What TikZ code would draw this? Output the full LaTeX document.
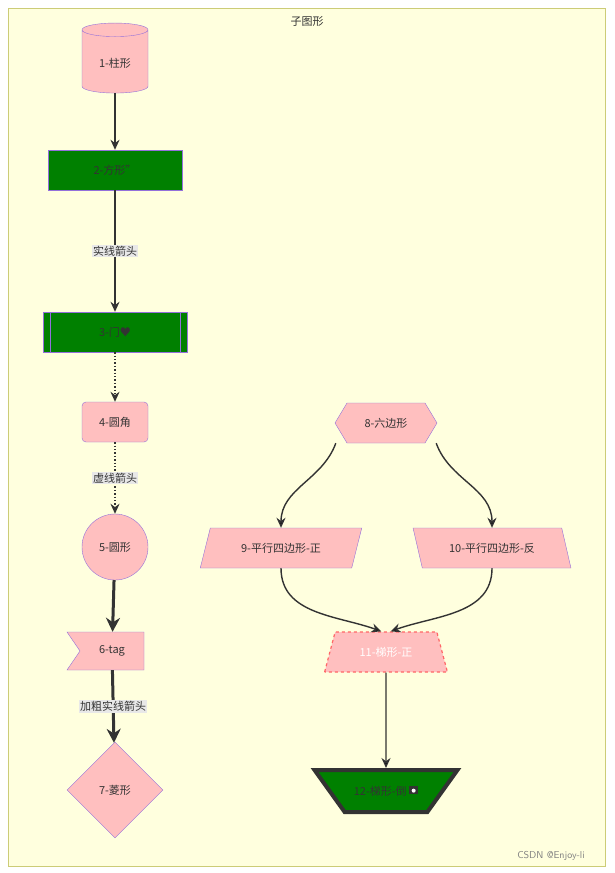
\documentclass[tikz,border=0pt]{standalone}
\usepackage{fontspec}
\setmainfont{Noto Sans CJK SC}
\usetikzlibrary{shapes.geometric,shapes.misc,shapes.multipart,arrows.meta}
\definecolor{clusterbg}{HTML}{FFFFDE}
\definecolor{clusterline}{HTML}{CCCC77}
\definecolor{nodeline}{HTML}{9370DB}
\definecolor{darkgreen}{HTML}{008000}
\definecolor{edgecol}{HTML}{333333}
\definecolor{labelbg}{HTML}{E8E8E8}
\tikzset{
  box/.style={draw=nodeline, fill=pink, text=edgecol, font=\fontsize{11}{13}\selectfont},
  greenbox/.style={box, fill=darkgreen, minimum height=40pt},
  link/.style={draw=edgecol, line width=1.4pt, -{Stealth[length=10pt,width=9pt]}},
  dotlink/.style={link, dotted},
  boldlink/.style={draw=edgecol, line width=3pt, -{Stealth[length=14pt,width=14pt]}},
  elabel/.style={fill=labelbg, inner sep=1pt, text=edgecol, font=\fontsize{11}{13}\selectfont},
}
\begin{document}
\begin{tikzpicture}[x=1pt, y=-1pt]
        % Define Variables
        \useasboundingbox (0,0) rectangle (614,873);

        % Cluster
        \draw[clusterline, fill=clusterbg] (8,8) rectangle (605,866);
        \node[text=edgecol, font=\fontsize{11}{13}\selectfont] (title) at (307,21) {子图形};

        % Left column
        \node[box, cylinder, shape border rotate=90, aspect=0.35, minimum width=66pt, minimum height=70pt] (n1) at (115,63) {1-柱形};
        \node[greenbox, rectangle, minimum width=134pt] (n2) at (115,170) {2-方形"};
        \node[greenbox, rectangle, minimum width=144pt] (n3) at (115,332) {3-门♥};
        \draw[nodeline] ([xshift=7pt]n3.north west) -- ([xshift=7pt]n3.south west)
                        ([xshift=-7pt]n3.north east) -- ([xshift=-7pt]n3.south east);
        \node[box, rounded corners=4pt, minimum width=66pt, minimum height=40pt] (n4) at (115,422) {4-圆角};
        \node[box, circle, minimum size=66pt, inner sep=0pt] (n5) at (115,547) {5-圆形};
        \filldraw[box] (67,632) -- (144,632) -- (144,670) -- (67,670) -- (80,651) -- cycle;
        \node[text=edgecol, font=\fontsize{11}{13}\selectfont, minimum height=38pt, minimum width=64pt] (n6) at (112,651) {6-tag};
        \node[box, diamond, minimum width=96pt, minimum height=96pt, inner sep=0pt] (n7) at (115,790) {7-菱形};

        \draw[link] (n1) -- (n2);
        \draw[link] (n2) -- node[elabel] (l1) {实线箭头} (n3);
        \draw[dotlink] (n3) -- (n4);
        \draw[dotlink] (n4) -- node[elabel] (l2) {虚线箭头} (n5);
        \draw[boldlink] (n5) -- (n6);
        \draw[boldlink] (n6) -- node[elabel] (l3) {加粗实线箭头} (n7);

        % Right part
        \node[box, regular polygon, regular polygon sides=6, shape border rotate=0, minimum size=0pt, draw=none, fill=none] (dummy) at (386,423) {};
        \filldraw[box] (335,423) -- (347,403) -- (425,403) -- (437,423) -- (425,443) -- (347,443) -- cycle;
        \node[text=edgecol, font=\fontsize{11}{13}\selectfont, minimum width=100pt, minimum height=40pt] (n8) at (386,423) {8-六边形};
        \node[box, trapezium, trapezium left angle=70, trapezium right angle=110, minimum width=162pt, minimum height=40pt, trapezium stretches=true] (n9) at (281,548) {9-平行四边形-正};
        \node[box, trapezium, trapezium left angle=110, trapezium right angle=70, minimum width=158pt, minimum height=40pt, trapezium stretches=true] (n10) at (492,548) {10-平行四边形-反};
        \node[box, trapezium, trapezium angle=70, draw={rgb,255:red,255;green,102;blue,102}, dashed, line width=1.2pt, text=white, minimum width=123pt, minimum height=40pt, trapezium stretches=true] (n11) at (386,652) {11-梯形-正};
        \node[box, trapezium, trapezium angle=70, shape border rotate=180, draw=edgecol, line width=4pt, fill=darkgreen, minimum width=143pt, minimum height=42pt, trapezium stretches=true] (n12) at (386,791) {};
        \node[text=edgecol, font=\fontsize{11}{13}\selectfont] (n12t) at (386,791) {12-梯形-倒 \tikz[baseline=-1pt]{\fill[edgecol] (0,0) rectangle (9pt,8pt); \fill[white] (4.5pt,3.5pt) circle (2pt);}};

        \draw[link] (n8.south west) to[out=-110, in=90] (n9.north);
        \draw[link] (n8.south east) to[out=-70, in=90] (n10.north);
        \draw[link] (n9.south) to[out=-90, in=160] ([xshift=16pt]n11.north west);
        \draw[link] (n10.south) to[out=-90, in=20] ([xshift=-16pt]n11.north east);
        \draw[link] (n11) -- (n12);

        % Watermark
        \node[text=gray, font=\fontsize{10}{12}\selectfont\sffamily] (wm) at (551,856) {CSDN @Enjoy-li};
\end{tikzpicture}
\end{document}
